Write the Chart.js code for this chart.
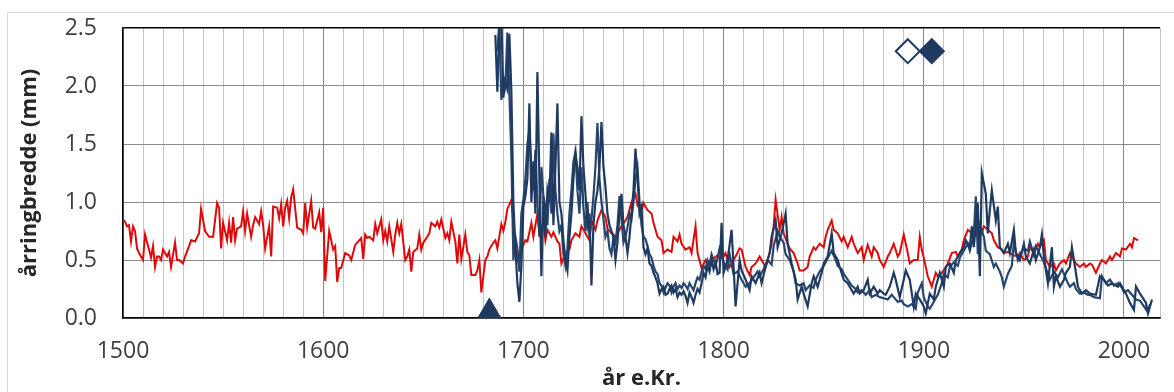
<!DOCTYPE html>
<html>
<head>
<meta charset="utf-8">
<script src="https://cdn.jsdelivr.net/npm/chart.js@4.4.1/dist/chart.umd.min.js"></script>
<style>
  html, body { margin: 0; padding: 0; background: #fff; }
  #wrap { position: relative; width: 1174px; height: 392px; overflow: hidden; }
  #frame { position: absolute; left: 7px; top: 12px; width: 1200px; height: 420px; border: 1px solid #d9d9d9; }
  canvas { position: absolute; left: 0; top: 0; }
</style>
</head>
<body>
<div id="wrap">
  <div id="frame"></div>
  <canvas id="ringChart" width="1174" height="392"></canvas>
</div>
<script>
// reference chronology (red)
const redYears = [
  1500, 1501, 1502, 1503, 1504, 1505, 1506, 1507, 1508, 1510, 1511, 1513, 1514, 1515, 1516, 1517, 1518, 1519,
  1520, 1522, 1523, 1524, 1526, 1527, 1528, 1530, 1531, 1533, 1534, 1536, 1538, 1539,
  1541, 1543, 1545, 1547, 1548, 1549, 1550, 1552, 1553, 1554, 1555, 1556, 1557, 1559,
  1560, 1561, 1562, 1564, 1565, 1566, 1568, 1569, 1570, 1571, 1573, 1574, 1575, 1577, 1578, 1579,
  1580, 1581, 1582, 1583, 1584, 1585, 1587, 1589, 1590, 1591, 1592, 1594, 1595, 1596, 1598, 1599,
  1600, 1601, 1603, 1604, 1605, 1606, 1607, 1608, 1609, 1611, 1613, 1614, 1616, 1618, 1619,
  1620, 1621, 1622, 1623, 1625, 1626, 1627, 1629, 1630, 1631, 1632, 1633, 1635, 1636, 1637, 1638, 1639,
  1641, 1642, 1643, 1644, 1645, 1647, 1648, 1649, 1650, 1652, 1653, 1654, 1656, 1657, 1658, 1659,
  1661, 1662, 1663, 1664, 1666, 1667, 1668, 1669, 1671, 1672, 1673, 1674, 1676, 1677, 1678, 1679,
  1681, 1682, 1683, 1685, 1686, 1687, 1689, 1690, 1691, 1692, 1694, 1695, 1696, 1697, 1699,
  1700, 1701, 1702, 1704, 1705, 1707, 1708, 1710, 1711, 1712, 1714, 1715, 1717, 1718, 1719,
  1721, 1723, 1724, 1726, 1728, 1729, 1731, 1733, 1734, 1736, 1737, 1739,
  1741, 1742, 1744, 1746, 1747, 1749, 1751, 1752, 1754, 1756, 1757, 1759,
  1760, 1762, 1764, 1765, 1767, 1769, 1770, 1772, 1774, 1775, 1777, 1778, 1779,
  1781, 1783, 1784, 1786, 1787, 1789, 1791, 1792, 1794, 1797, 1798,
  1800, 1801, 1803, 1804, 1806, 1808, 1809, 1811, 1813, 1814, 1816, 1818, 1819,
  1821, 1823, 1824, 1825, 1826, 1828, 1829, 1830, 1832, 1833, 1835, 1837, 1838,
  1840, 1842, 1843, 1845, 1846, 1848, 1850, 1851, 1852, 1854, 1855, 1857, 1859,
  1860, 1862, 1864, 1865, 1867, 1869, 1870, 1872, 1874, 1875, 1877, 1878,
  1880, 1882, 1883, 1885, 1887, 1888, 1890, 1892, 1893, 1895, 1897, 1898, 1899,
  1900, 1901, 1902, 1904, 1906, 1907, 1909, 1911, 1912, 1914, 1916, 1917, 1919,
  1920, 1922, 1924, 1925, 1927, 1929, 1930, 1932, 1934, 1935, 1937, 1939,
  1940, 1942, 1943, 1945, 1947, 1948, 1950, 1952, 1953, 1955, 1957, 1958,
  1960, 1961, 1963, 1965, 1966, 1968, 1970, 1971, 1973, 1975, 1976, 1978,
  1980, 1981, 1983, 1984, 1986, 1988, 1989, 1991, 1993, 1994, 1996, 1998, 1999,
  2001, 2003, 2004, 2005, 2007
];
const redWidths = [
  0.85, 0.83, 0.79, 0.80, 0.66, 0.79, 0.75, 0.60, 0.56, 0.50, 0.72, 0.59, 0.52, 0.62, 0.44, 0.53, 0.53, 0.50,
  0.59, 0.53, 0.57, 0.44, 0.65, 0.50, 0.50, 0.47, 0.53, 0.62, 0.67, 0.66, 0.73, 0.94,
  0.75, 0.70, 0.70, 0.99, 0.95, 0.60, 0.82, 0.67, 0.82, 0.65, 0.87, 0.67, 0.77, 0.79,
  0.92, 0.75, 0.90, 0.70, 0.80, 0.87, 0.81, 0.92, 0.80, 0.60, 0.79, 0.53, 0.96, 0.95, 0.86, 0.98,
  0.79, 0.95, 1.01, 0.86, 1.04, 1.11, 0.78, 0.76, 0.73, 0.99, 0.78, 1.01, 0.78, 0.77, 0.91, 0.74,
  0.95, 0.32, 0.75, 0.67, 0.59, 0.62, 0.31, 0.43, 0.43, 0.56, 0.54, 0.50, 0.63, 0.67, 0.69,
  0.51, 0.72, 0.69, 0.70, 0.67, 0.81, 0.73, 0.85, 0.67, 0.75, 0.66, 0.79, 0.57, 0.72, 0.82, 0.73, 0.81,
  0.50, 0.53, 0.59, 0.40, 0.57, 0.60, 0.72, 0.59, 0.65, 0.70, 0.73, 0.82, 0.79, 0.83, 0.78, 0.85,
  0.69, 0.73, 0.67, 0.83, 0.66, 0.47, 0.72, 0.51, 0.72, 0.57, 0.54, 0.37, 0.37, 0.41, 0.50, 0.22,
  0.50, 0.53, 0.59, 0.65, 0.67, 0.60, 0.81, 0.75, 0.83, 0.94, 1.02, 0.82, 0.62, 0.50, 0.59,
  0.63, 0.67, 0.66, 0.82, 0.70, 0.90, 0.73, 0.82, 0.67, 0.76, 0.70, 0.74, 0.66, 0.64, 0.47,
  0.56, 0.59, 0.67, 0.73, 0.70, 0.79, 0.73, 0.67, 0.84, 0.76, 0.84, 0.93,
  0.87, 0.77, 0.73, 0.70, 0.73, 0.79, 0.84, 0.87, 1.00, 1.07, 0.97, 0.93,
  0.99, 0.93, 0.90, 0.82, 0.70, 0.67, 0.56, 0.59, 0.57, 0.70, 0.66, 0.72, 0.64,
  0.59, 0.61, 0.56, 0.79, 0.56, 0.43, 0.50, 0.46, 0.50, 0.54, 0.51,
  0.53, 0.56, 0.44, 0.47, 0.53, 0.60, 0.59, 0.44, 0.37, 0.44, 0.47, 0.53, 0.50,
  0.44, 0.56, 0.64, 0.79, 1.02, 0.76, 0.87, 0.73, 0.64, 0.60, 0.56, 0.47, 0.41,
  0.41, 0.44, 0.53, 0.61, 0.59, 0.64, 0.61, 0.70, 0.76, 0.84, 0.76, 0.73, 0.66,
  0.70, 0.61, 0.70, 0.64, 0.56, 0.61, 0.50, 0.63, 0.53, 0.61, 0.56, 0.50,
  0.44, 0.53, 0.56, 0.64, 0.53, 0.56, 0.72, 0.56, 0.47, 0.50, 0.50, 0.70, 0.59,
  0.52, 0.44, 0.36, 0.27, 0.39, 0.36, 0.39, 0.44, 0.47, 0.56, 0.57, 0.53, 0.59,
  0.67, 0.76, 0.73, 0.76, 0.70, 0.73, 0.79, 0.76, 0.73, 0.67, 0.61, 0.59,
  0.56, 0.57, 0.56, 0.54, 0.53, 0.56, 0.50, 0.53, 0.61, 0.56, 0.64, 0.61,
  0.67, 0.50, 0.44, 0.47, 0.41, 0.47, 0.50, 0.47, 0.56, 0.50, 0.47, 0.44,
  0.47, 0.44, 0.47, 0.46, 0.39, 0.47, 0.50, 0.47, 0.53, 0.50, 0.56, 0.53, 0.60,
  0.59, 0.64, 0.61, 0.69, 0.67
];

// sampled trees (navy)
const treeAYears = [
  1686, 1687, 1688, 1689, 1690, 1691, 1692, 1693, 1694, 1695, 1696, 1697, 1698, 1699,
  1700, 1701, 1702, 1703, 1704, 1705, 1706, 1707, 1708, 1709, 1710, 1711, 1712, 1713, 1714, 1715, 1716, 1717, 1718, 1719,
  1720, 1721, 1722, 1723, 1724, 1725, 1726, 1727, 1728, 1729, 1730, 1731, 1732, 1733, 1734, 1735, 1736, 1737, 1738, 1739,
  1740, 1741, 1742, 1743, 1744, 1745, 1746, 1747, 1748, 1749, 1750, 1751, 1752, 1753, 1754, 1755, 1756, 1757, 1758, 1759,
  1760, 1761, 1762, 1763, 1764, 1765, 1766, 1767, 1768, 1769, 1770, 1771, 1772, 1773, 1774, 1775, 1776, 1777, 1778, 1779,
  1780, 1781, 1782, 1783, 1784, 1785, 1786, 1787, 1788, 1789, 1790, 1791, 1792, 1793, 1794, 1795, 1796, 1797, 1798, 1799,
  1800, 1802, 1804, 1805, 1806, 1808, 1809, 1811, 1813, 1814, 1816, 1818, 1819,
  1821, 1823, 1824, 1826, 1827, 1829, 1831, 1832, 1834, 1836, 1837, 1839,
  1840, 1842, 1844, 1845, 1847, 1849, 1850, 1852, 1854, 1855, 1857, 1858,
  1860, 1862, 1863, 1865, 1867, 1868, 1870, 1872, 1873, 1875, 1877, 1878,
  1880, 1881, 1883, 1885, 1886, 1888, 1890, 1891, 1893, 1895, 1896, 1898,
  1900, 1901, 1903, 1905, 1906, 1908, 1910, 1911, 1913, 1915, 1916, 1918,
  1920, 1921, 1923, 1924, 1925, 1927, 1928, 1929, 1931, 1932, 1933, 1934, 1936, 1937, 1938,
  1940, 1942, 1943, 1945, 1946, 1948, 1950, 1951, 1953, 1955, 1956, 1958, 1959,
  1960, 1962, 1964, 1965, 1966, 1968, 1970, 1971, 1973, 1974, 1976, 1977, 1979,
  1981, 1983, 1986, 1988, 1990, 1992, 1994, 1997, 1998,
  2001, 2003, 2005, 2006, 2008, 2011, 2012, 2014
];
const treeAWidths = [
  2.44, 1.95, 2.50, 2.60, 1.90, 2.05, 1.98, 2.45, 1.95, 1.00, 0.60, 0.30, 0.14, 0.45,
  0.96, 1.05, 1.20, 1.85, 1.00, 1.35, 0.90, 2.12, 1.20, 0.36, 1.05, 0.70, 1.10, 1.00, 1.60, 0.80, 1.30, 1.85, 1.00, 0.90,
  0.67, 0.50, 0.41, 0.70, 0.90, 1.20, 1.42, 1.30, 1.10, 1.74, 1.30, 1.07, 0.80, 0.90, 0.28, 0.80, 1.00, 1.10, 1.30, 1.69,
  1.30, 1.13, 0.90, 0.80, 0.75, 0.70, 0.50, 0.65, 0.90, 1.07, 0.80, 0.70, 0.56, 0.70, 0.90, 1.10, 1.46, 1.20, 0.90, 0.96,
  0.61, 0.55, 0.60, 0.47, 0.45, 0.39, 0.35, 0.30, 0.21, 0.25, 0.27, 0.20, 0.21, 0.25, 0.28, 0.22, 0.25, 0.18, 0.22, 0.20,
  0.23, 0.19, 0.13, 0.22, 0.18, 0.13, 0.20, 0.25, 0.22, 0.30, 0.39, 0.35, 0.45, 0.40, 0.50, 0.42, 0.48, 0.38, 0.39, 0.82,
  0.39, 0.50, 0.76, 0.44, 0.10, 0.50, 0.41, 0.33, 0.24, 0.36, 0.30, 0.39, 0.30,
  0.44, 0.56, 0.70, 0.84, 0.61, 0.73, 0.90, 0.64, 0.47, 0.33, 0.16, 0.27,
  0.21, 0.10, 0.30, 0.36, 0.27, 0.39, 0.47, 0.53, 0.73, 0.56, 0.50, 0.44,
  0.33, 0.30, 0.27, 0.21, 0.27, 0.21, 0.24, 0.33, 0.21, 0.27, 0.21, 0.24,
  0.21, 0.20, 0.27, 0.39, 0.33, 0.18, 0.33, 0.41, 0.33, 0.10, 0.21, 0.16,
  0.10, 0.04, 0.21, 0.16, 0.27, 0.39, 0.27, 0.44, 0.47, 0.39, 0.50, 0.56,
  0.61, 0.67, 0.61, 0.79, 0.61, 0.99, 0.36, 1.25, 1.07, 0.73, 0.93, 1.10, 0.84, 0.96, 0.61,
  0.56, 0.64, 0.56, 0.76, 0.56, 0.50, 0.64, 0.53, 0.47, 0.59, 0.50, 0.61, 0.72,
  0.53, 0.30, 0.61, 0.27, 0.36, 0.27, 0.33, 0.39, 0.44, 0.61, 0.39, 0.27, 0.21,
  0.24, 0.21, 0.20, 0.36, 0.33, 0.28, 0.30, 0.27, 0.30,
  0.21, 0.13, 0.07, 0.27, 0.21, 0.13, 0.04, 0.16
];

const treeBYears = [
  1687, 1688, 1689, 1690, 1691, 1692, 1693, 1694, 1695, 1696, 1697, 1698, 1699,
  1700, 1701, 1702, 1703, 1704, 1705, 1706, 1707, 1708, 1709, 1710, 1711, 1712, 1713, 1714, 1715, 1716, 1717, 1718, 1719,
  1720, 1721, 1722, 1723, 1724, 1725, 1726, 1727, 1728, 1729, 1730, 1731, 1732, 1733, 1734, 1735, 1736, 1737, 1738, 1739,
  1740, 1741, 1742, 1743, 1744, 1745, 1746, 1747, 1748, 1749, 1750, 1751, 1752, 1753, 1754, 1755, 1756, 1757, 1758, 1759,
  1760, 1761, 1762, 1763, 1764, 1765, 1766, 1767, 1768, 1769, 1770, 1771, 1772, 1773, 1774, 1775, 1776, 1777, 1778, 1779,
  1780, 1781, 1782, 1783, 1784, 1785, 1786, 1787, 1788, 1789, 1790, 1791, 1792, 1793, 1794, 1795, 1796, 1797, 1798, 1799,
  1800, 1802, 1803, 1805, 1807, 1809, 1810, 1811, 1813, 1815, 1817, 1818,
  1820, 1822, 1824, 1825, 1827, 1828, 1830, 1831, 1833, 1835, 1836, 1838,
  1840, 1841, 1843, 1845, 1846, 1848, 1850, 1851, 1853, 1854, 1856, 1857, 1859,
  1860, 1862, 1864, 1866, 1867, 1869, 1871, 1873, 1874, 1876, 1878,
  1880, 1882, 1884, 1885, 1887, 1889, 1890, 1892, 1894, 1896, 1897, 1899,
  1900, 1902, 1903, 1905, 1907, 1909, 1910, 1912, 1913, 1915, 1917, 1918,
  1920, 1922, 1923, 1925, 1926, 1927, 1928, 1930, 1931, 1933, 1935, 1936, 1938, 1939,
  1940, 1942, 1944, 1945, 1947, 1948, 1950, 1952, 1953, 1955, 1956, 1958,
  1960, 1962, 1963, 1965, 1967, 1969, 1970, 1972, 1973, 1975, 1976, 1978,
  1980, 1982, 1983, 1985, 1988, 1989, 1991, 1993, 1995, 1997, 1999,
  2000, 2002, 2004, 2006, 2008, 2010, 2012, 2013
];
const treeBWidths = [
  2.30, 2.55, 1.88, 2.07, 2.00, 2.46, 1.94, 1.40, 0.50, 0.70, 0.60, 0.40, 0.90,
  1.02, 1.20, 1.50, 1.62, 1.30, 1.10, 1.45, 1.00, 0.70, 1.30, 1.05, 0.95, 0.80, 1.20, 0.90, 1.59, 1.10, 0.90, 0.75, 0.80,
  0.55, 0.45, 0.60, 0.90, 1.10, 1.35, 1.43, 1.10, 0.90, 1.30, 0.95, 0.75, 1.00, 0.70, 0.85, 1.05, 1.30, 1.68, 1.20, 1.00,
  0.85, 0.70, 0.75, 0.60, 0.55, 0.70, 0.65, 0.80, 1.05, 0.85, 0.65, 0.70, 0.78, 0.90, 0.85, 1.00, 1.20, 1.30, 1.00, 0.80,
  0.70, 0.68, 0.62, 0.55, 0.52, 0.45, 0.40, 0.38, 0.30, 0.28, 0.22, 0.26, 0.30, 0.28, 0.22, 0.27, 0.30, 0.25, 0.28, 0.26,
  0.30, 0.28, 0.25, 0.30, 0.27, 0.24, 0.30, 0.35, 0.33, 0.40, 0.45, 0.42, 0.50, 0.46, 0.55, 0.50, 0.45, 0.52, 0.60, 0.55,
  0.48, 0.42, 0.55, 0.38, 0.40, 0.33, 0.30, 0.27, 0.30, 0.35, 0.40, 0.36,
  0.42, 0.50, 0.46, 0.62, 0.75, 0.70, 0.65, 0.55, 0.50, 0.40, 0.30, 0.28,
  0.30, 0.24, 0.28, 0.26, 0.33, 0.40, 0.45, 0.48, 0.55, 0.58, 0.50, 0.45, 0.42,
  0.38, 0.33, 0.28, 0.25, 0.22, 0.24, 0.20, 0.24, 0.18, 0.20, 0.18,
  0.17, 0.16, 0.20, 0.18, 0.14, 0.15, 0.12, 0.10, 0.12, 0.08, 0.22, 0.30,
  0.18, 0.10, 0.08, 0.14, 0.20, 0.30, 0.38, 0.35, 0.44, 0.48, 0.45, 0.52,
  0.58, 0.64, 0.58, 0.72, 1.05, 0.55, 0.80, 0.70, 0.58, 0.55, 0.44, 0.47, 0.40, 0.35,
  0.27, 0.38, 0.45, 0.65, 0.50, 0.55, 0.60, 0.58, 0.66, 0.54, 0.62, 0.55,
  0.48, 0.38, 0.33, 0.40, 0.35, 0.42, 0.38, 0.30, 0.27, 0.30, 0.25, 0.21,
  0.22, 0.20, 0.20, 0.18, 0.17, 0.36, 0.30, 0.33, 0.28, 0.30, 0.26,
  0.22, 0.24, 0.20, 0.16, 0.15, 0.10, 0.05, 0.12
];

// markers: triangle on the axis, open and filled diamond near the top
const triangleYear = [1683];
const triangleLevel = [0.06];
const openDiamondYear = [1892];
const filledDiamondYear = [1904];
const diamondLevel = [2.3];

const NAVY = '#1f3a60';
const RED = '#dc0a0a';
const FONT = "'Open Sans', 'Liberation Sans', sans-serif";

const toPoints = (years, values) => years.map((year, i) => ({ x: year, y: values[i] }));

const ctx = document.getElementById('ringChart').getContext('2d');
const ringChart = new Chart(ctx, {
    type: 'line',
    data: {
        datasets: [
            {
                label: 'triangle',
                data: toPoints(triangleYear, triangleLevel),
                showLine: false,
                pointStyle: 'triangle',
                pointRadius: 13,
                backgroundColor: NAVY,
                borderColor: NAVY,
                clip: false
            },
            {
                label: 'open diamond',
                data: toPoints(openDiamondYear, diamondLevel),
                showLine: false,
                pointStyle: 'rectRot',
                pointRadius: 12,
                pointBorderWidth: 2,
                backgroundColor: '#ffffff',
                borderColor: NAVY,
                clip: false
            },
            {
                label: 'filled diamond',
                data: toPoints(filledDiamondYear, diamondLevel),
                showLine: false,
                pointStyle: 'rectRot',
                pointRadius: 12,
                pointBorderWidth: 2,
                backgroundColor: NAVY,
                borderColor: NAVY,
                clip: false
            },
            {
                label: 'tre A',
                data: toPoints(treeAYears, treeAWidths),
                borderColor: NAVY,
                borderWidth: 2.2,
                pointRadius: 0,
                tension: 0
            },
            {
                label: 'tre B',
                data: toPoints(treeBYears, treeBWidths),
                borderColor: '#27466e',
                borderWidth: 2.2,
                pointRadius: 0,
                tension: 0
            },
            {
                label: 'referanse',
                data: toPoints(redYears, redWidths),
                borderColor: RED,
                borderWidth: 2,
                pointRadius: 0,
                tension: 0
            }
        ]
    },
    options: {
        responsive: false,
        animation: false,
        layout: { padding: { left: 0, top: 28, right: 0, bottom: 0 } },
        plugins: {
            legend: { display: false },
            tooltip: { enabled: false }
        },
        scales: {
            x: {
                type: 'linear',
                min: 1500,
                max: 2018,
                // fixed box so the plot area matches the picture
                afterFit: (axis) => {
                    axis.height = 74;
                    axis.paddingLeft = 0;
                    axis.paddingRight = 0;
                },
                ticks: {
                    stepSize: 10,
                    autoSkip: false,
                    maxRotation: 0,
                    padding: 20,
                    color: '#404040',
                    font: { family: FONT, size: 23 },
                    callback: (value) => (value % 100 === 0 ? String(value) : '')
                },
                grid: {
                    drawTicks: false,
                    color: (c) => (c.tick && c.tick.value % 100 === 0 ? '#8a8a8a' : '#c4c4c4'),
                    lineWidth: 1
                },
                border: { color: '#000000', width: 1.5 },
                title: {
                    display: true,
                    text: 'år e.Kr.',
                    color: '#262626',
                    font: { family: FONT, size: 22, weight: 'bold' },
                    padding: { top: 0, bottom: 0 }
                }
            },
            y: {
                min: 0,
                max: 2.5,
                afterFit: (axis) => {
                    axis.width = 123;
                    axis.paddingTop = 0;
                    axis.paddingBottom = 0;
                },
                ticks: {
                    stepSize: 0.5,
                    padding: 26,
                    color: '#404040',
                    font: { family: FONT, size: 23 },
                    callback: (value) => value.toFixed(1)
                },
                grid: {
                    drawTicks: false,
                    color: (c) => (c.tick && c.tick.value === 2.5 ? '#000000' : '#8a8a8a'),
                    lineWidth: (c) => (c.tick && c.tick.value === 2.5 ? 1.5 : 1)
                },
                border: { color: '#000000', width: 1.5 },
                title: {
                    display: true,
                    text: 'årringbredde (mm)',
                    color: '#262626',
                    font: { family: FONT, size: 22, weight: 'bold' },
                    padding: { top: 17, bottom: 0 }
                }
            }
        }
    }
});
</script>
</body>
</html>
